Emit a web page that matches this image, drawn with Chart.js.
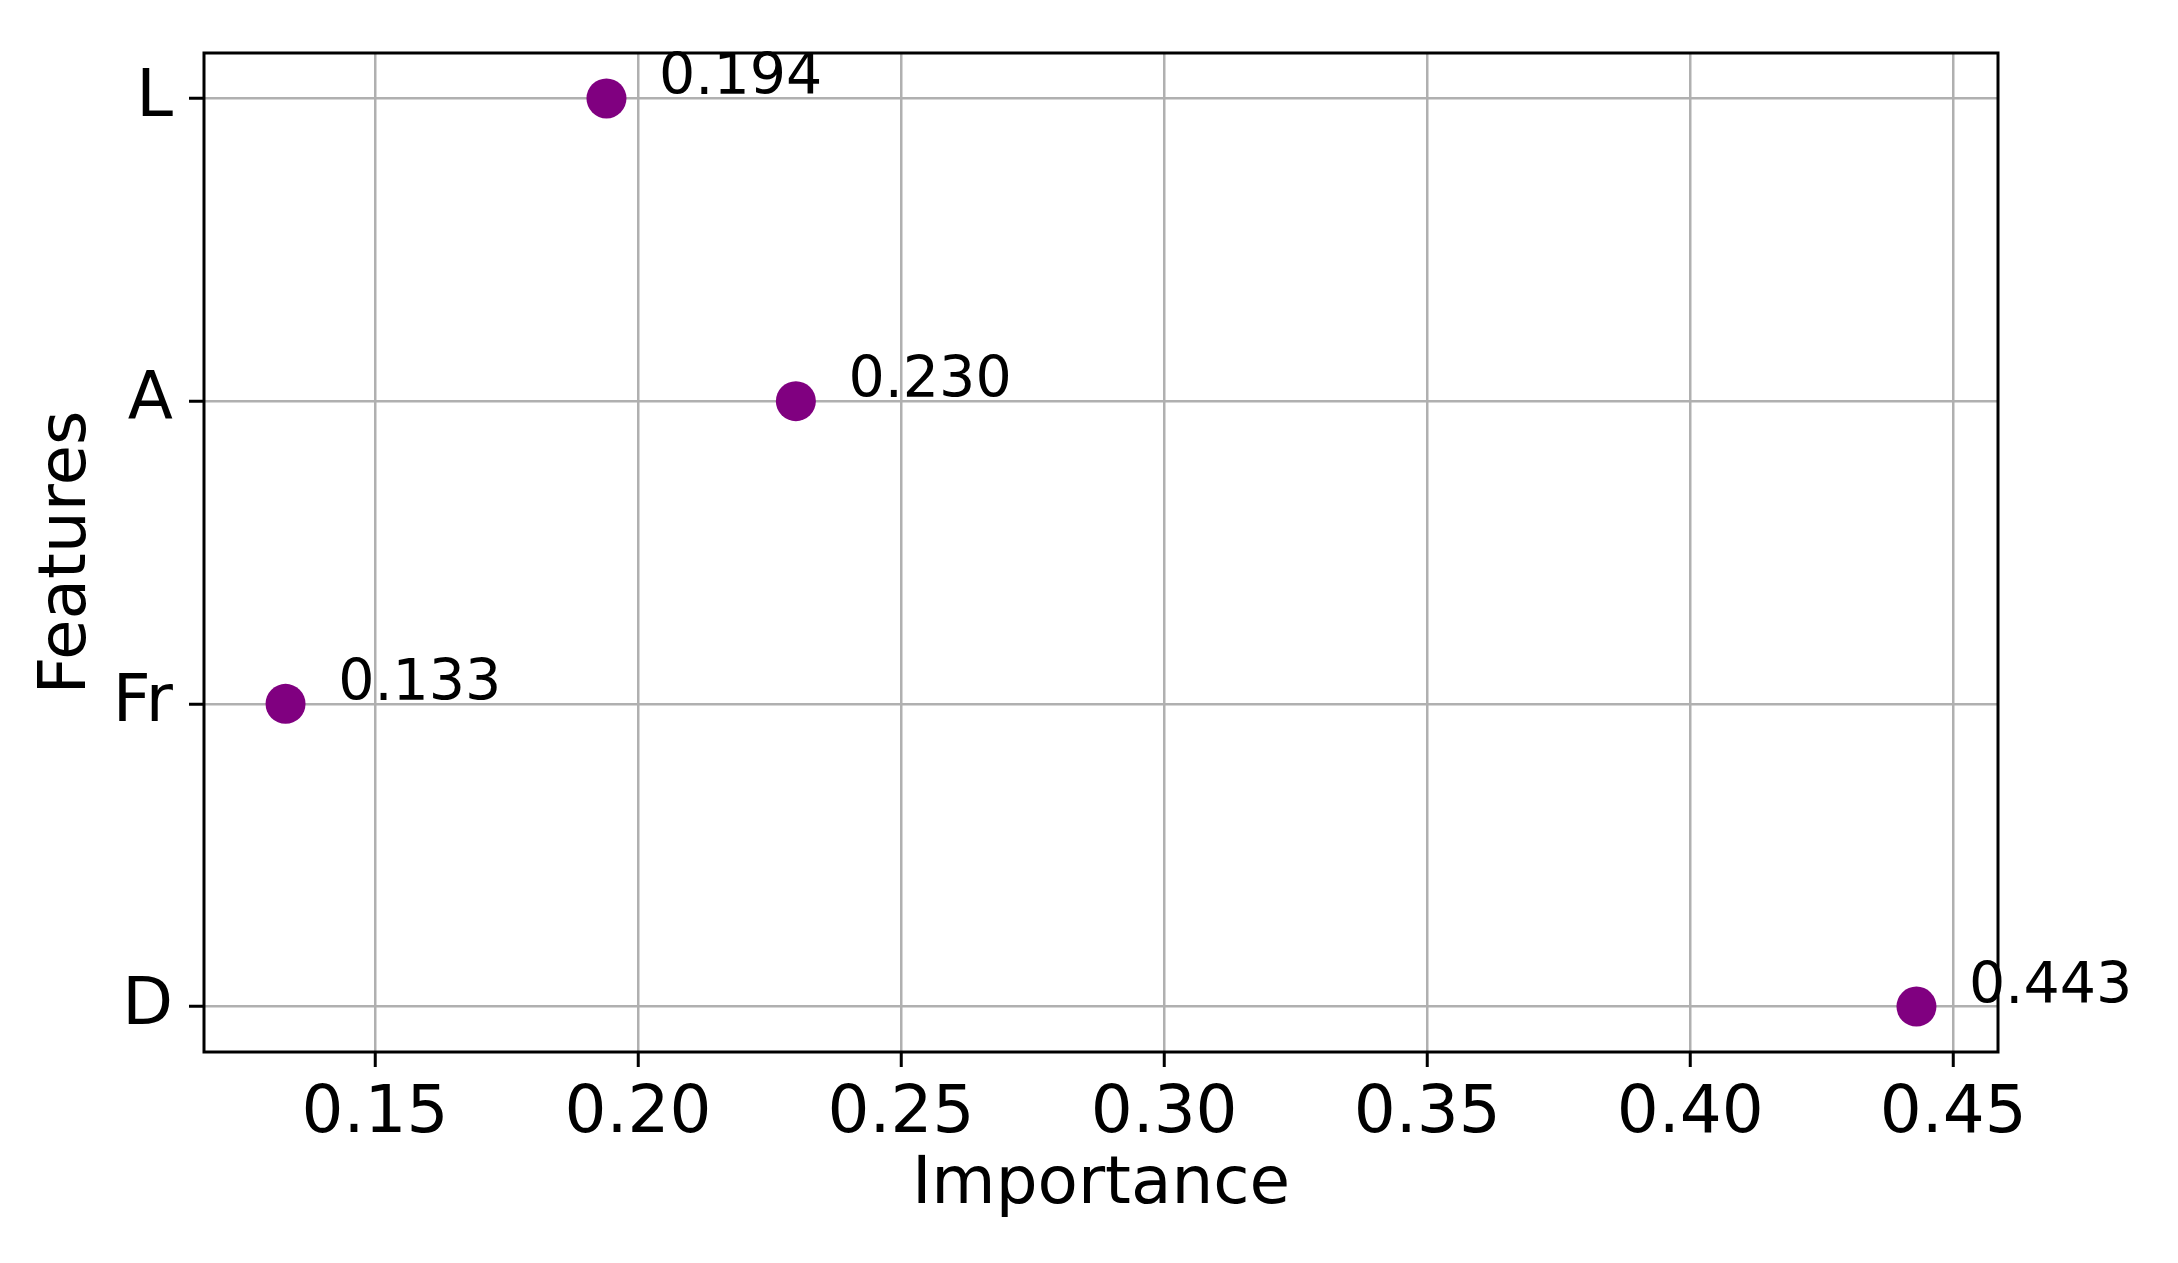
<!DOCTYPE html>
<html>
<head>
<meta charset="utf-8">
<script src="https://cdn.jsdelivr.net/npm/chart.js@4/dist/chart.umd.min.js"></script>
<style>
  html, body { margin: 0; padding: 0; background: #fff; }
  #wrap { width: 2178px; height: 1263px; }
</style>
</head>
<body>
<div id="wrap"><canvas id="chart" width="2178" height="1263"></canvas></div>
<script>
// feature importances, one per row (y index 0 = bottom)
const features = ['D', 'Fr', 'A', 'L'];
const importance = [0.443, 0.133, 0.230, 0.194];
const xTicks = [0.15, 0.20, 0.25, 0.30, 0.35, 0.40, 0.45];
const xRange = [0.1175, 0.4585];
const yRange = [-0.15, 3.15];
const labelOffset = 0.01;

const FONT = "'DejaVu Sans', sans-serif";

// black box around the plot + value labels next to each dot
const frameAndLabels = {
  id: 'frameAndLabels',
  afterDatasetsDraw(chart) {
    const { ctx, chartArea: a, scales } = chart;
    ctx.save();
    ctx.strokeStyle = '#000';
    ctx.lineWidth = 3;
    ctx.strokeRect(a.left, a.top, a.right - a.left, a.bottom - a.top);
    ctx.fillStyle = '#000';
    ctx.font = `57px ${FONT}`;
    ctx.textAlign = 'left';
    ctx.textBaseline = 'alphabetic';
    importance.forEach((v, i) => {
      ctx.fillText(v.toFixed(3), scales.x.getPixelForValue(v + labelOffset), scales.y.getPixelForValue(i) - 4);
    });
    ctx.restore();
  }
};

new Chart(document.getElementById('chart'), {
  type: 'scatter',
  data: {
    datasets: [{
      data: importance.map((v, i) => ({ x: v, y: i })),
      backgroundColor: '#800080',
      borderWidth: 0,
      pointRadius: 20,
      pointHoverRadius: 20
    }]
  },
  options: {
    responsive: false,
    animation: false,
    layout: { padding: { top: 53, right: 180, bottom: 0, left: 0 } },
    plugins: { legend: { display: false }, tooltip: { enabled: false } },
    scales: {
      x: {
        min: xRange[0], max: xRange[1],
        afterBuildTicks: s => { s.ticks = xTicks.map(v => ({ value: v })); },
        afterFit: s => { s.height = 211; },
        grid: { color: '#b0b0b0', lineWidth: 2.5, tickColor: '#000', tickWidth: 3, tickLength: 15 },
        border: { display: false },
        ticks: { color: '#000', font: { family: FONT, size: 66 }, padding: 8, maxRotation: 0, callback: v => v.toFixed(2) },
        title: { display: true, text: 'Importance', color: '#000', font: { family: FONT, size: 66 }, padding: { top: 0, bottom: 38 } }
      },
      y: {
        min: yRange[0], max: yRange[1],
        afterBuildTicks: s => { s.ticks = features.map((f, i) => ({ value: i })); },
        afterFit: s => { s.width = 204; },
        grid: { color: '#b0b0b0', lineWidth: 2.5, tickColor: '#000', tickWidth: 3, tickLength: 15 },
        border: { display: false },
        ticks: { color: '#000', font: { family: FONT, size: 66, lineHeight: 1 }, padding: 16, callback: v => features[v] },
        title: { display: true, text: 'Features', color: '#000', font: { family: FONT, size: 66 }, padding: { top: 28, bottom: 0 } }
      }
    }
  },
  plugins: [frameAndLabels]
});
</script>
</body>
</html>
